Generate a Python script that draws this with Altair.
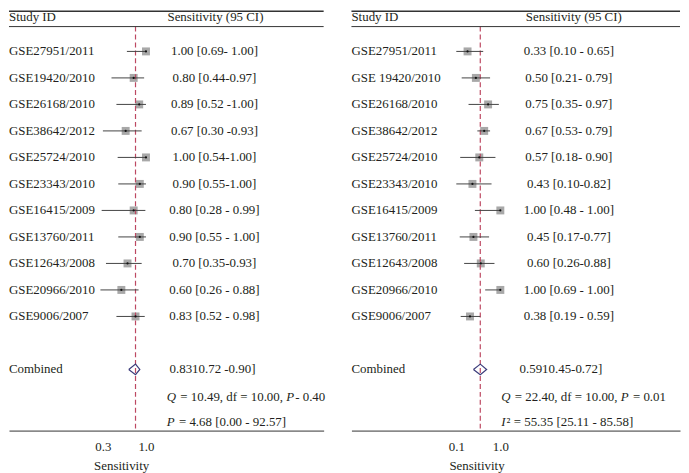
import altair as alt
import pandas as pd

# ---------------- data ----------------
studies_a = ["GSE27951/2011", "GSE19420/2010", "GSE26168/2010", "GSE38642/2012",
             "GSE25724/2010", "GSE23343/2010", "GSE16415/2009", "GSE13760/2011",
             "GSE12643/2008", "GSE20966/2010", "GSE9006/2007"]
est_a = [1.00, 0.80, 0.89, 0.67, 1.00, 0.90, 0.80, 0.90, 0.70, 0.60, 0.83]
lo_a = [0.69, 0.44, 0.52, 0.30, 0.54, 0.55, 0.28, 0.55, 0.35, 0.26, 0.52]
hi_a = [1.00, 0.97, 1.00, 0.93, 1.00, 1.00, 0.99, 1.00, 0.93, 0.88, 0.98]
labels_a = ["1.00 [0.69- 1.00]", "0.80 [0.44-0.97]", "0.89 [0.52 -1.00]", "0.67 [0.30 -0.93]",
            "1.00 [0.54-1.00]", "0.90 [0.55-1.00]", "0.80 [0.28 - 0.99]", "0.90 [0.55 - 1.00]",
            "0.70 [0.35-0.93]", "0.60 [0.26 - 0.88]", "0.83 [0.52 - 0.98]"]
combined_a = [0.83, 0.72, 0.90]
combined_label_a = "0.8310.72 -0.90]"
stats_a = [[("Q", True), (" = 10.49, df = 10.00, ", False), ("P", True), ("- 0.40", False)],
           [("P", True), (" = 4.68 [0.00 - 92.57]", False)]]
ticks_a = [0.3, 1.0]

studies_b = ["GSE27951/2011", "GSE 19420/2010", "GSE26168/2010", "GSE38642/2012",
             "GSE25724/2010", "GSE23343/2010", "GSE16415/2009", "GSE13760/2011",
             "GSE12643/2008", "GSE20966/2010", "GSE9006/2007"]
est_b = [0.33, 0.50, 0.75, 0.67, 0.57, 0.43, 1.00, 0.45, 0.60, 1.00, 0.38]
lo_b = [0.10, 0.21, 0.35, 0.53, 0.18, 0.10, 0.48, 0.17, 0.26, 0.69, 0.19]
hi_b = [0.65, 0.79, 0.97, 0.79, 0.90, 0.82, 1.00, 0.77, 0.88, 1.00, 0.59]
labels_b = ["0.33 [0.10 - 0.65]", "0.50 [0.21- 0.79]", "0.75 [0.35- 0.97]", "0.67 [0.53- 0.79]",
            "0.57 [0.18- 0.90]", "0.43 [0.10-0.82]", "1.00 [0.48 - 1.00]", "0.45 [0.17-0.77]",
            "0.60 [0.26-0.88]", "1.00 [0.69 - 1.00]", "0.38 [0.19 - 0.59]"]
combined_b = [0.59, 0.45, 0.72]
combined_label_b = "0.5910.45-0.72]"
stats_b = [[("Q", True), (" = 22.40, df = 10.00, ", False), ("P", True), (" = 0.01", False)],
           [("I", True), ("\u00b2 = 55.35 [25.11 - 85.58]", False)]]
ticks_b = [0.1, 1.0]

# ---------------- style ----------------
FONT = "Liberation Serif"
FS = 13
TXT = "#231f20"
H = 423
ROW0, ROWH = 41, 26.7
W_REG = {' ': 250, '=': 564, '.': 250, ',': 250, '-': 333, '[': 333, ']': 333,
         'd': 500, 'f': 333, 'P': 556, 'Q': 722, 'I': 333, '\u00b2': 300}
W_IT = {'Q': 722, 'P': 611, 'I': 333}


def seg_layout(parts, x0, y):
    out = []
    x = x0
    for txt, it in parts:
        table = W_IT if it else W_REG
        lead = len(txt) - len(txt.lstrip(' '))
        out.append(dict(t=txt.strip(' '), x=x + lead * 250 * FS / 1000, y=y, it=it))
        x += sum(table.get(c, 500) for c in txt) * FS / 1000 + (1.0 if it else 0)
    return out


def panel(studies, est, lo, hi, labels, comb, comb_label, stats, ticks,
          width, px1, slope, val_x, head_x, comb_x, stat_x, title_x):
    n = len(studies)
    df = pd.DataFrame({"study": studies, "est": est, "lo": lo, "hi": hi,
                       "lab": labels, "row": list(range(n))})
    crow = n + 1
    cdf = pd.DataFrame({"est": [comb[0]], "lo": [comb[1]], "hi": [comb[2]],
                        "row": [crow], "lab": [comb_label], "study": ["Combined"]})
    dia = pd.DataFrame({"est": [comb[1], comb[0], comb[2], comb[0], comb[1]],
                        "row": [crow, crow - 0.2, crow, crow + 0.2, crow],
                        "o": [0, 1, 2, 3, 4]})
    segs = seg_layout(stats[0], stat_x, 389) + seg_layout(stats[1], stat_x, 414)

    xdom = [1 - px1 / slope, 1 + (width - px1) / slope]
    ydom = [-ROW0 / ROWH, (H - ROW0) / ROWH]
    xs = alt.Scale(domain=xdom, nice=False, zero=False)
    ys = alt.Scale(domain=ydom, nice=False, zero=False, reverse=True)

    ax = alt.Axis(values=ticks, format=".1f", title="Sensitivity",
                  ticks=False, grid=False, domainColor="#333", domainWidth=1,
                  labelFont=FONT, labelFontSize=FS, labelColor=TXT,
                  labelPadding=10, titleFont=FONT, titleFontSize=FS,
                  titleFontWeight="normal", titleColor=TXT, titlePadding=6,
                  titleX=title_x, titleAlign="center")
    X = alt.X("est:Q", scale=xs, axis=ax)
    Y = alt.Y("row:Q", scale=ys, axis=None)

    base = alt.Chart(df)
    ci = base.mark_rule(color="#444", strokeWidth=1).encode(
        x=alt.X("lo:Q", scale=xs, axis=ax), x2="hi:Q", y=Y)
    sq = base.mark_square(size=64, color="#a8a8a8", opacity=1).encode(x=X, y=Y)
    dot = base.mark_circle(size=5, color="#111", opacity=1).encode(x=X, y=Y)
    names = base.mark_text(align="left", baseline="middle", font=FONT, fontSize=FS, color=TXT).encode(
        x=alt.value(0), y=Y, text="study:N")
    vals = base.mark_text(align="center", baseline="middle", font=FONT, fontSize=FS, color=TXT).encode(
        x=alt.value(val_x), y=Y, text="lab:N")

    cb = alt.Chart(cdf)
    dash = cb.mark_rule(color="#bd4862", strokeWidth=1.2, strokeDash=[5, 3]).encode(
        x=X, y=alt.value(16), y2=alt.value(H))
    cname = cb.mark_text(align="left", baseline="middle", font=FONT, fontSize=FS, color=TXT).encode(
        x=alt.value(0), y=Y, text="study:N")
    cval = cb.mark_text(align="center", baseline="middle", font=FONT, fontSize=FS, color=TXT).encode(
        x=alt.value(comb_x), y=Y, text="lab:N")
    diamond = alt.Chart(dia).mark_line(color="#3b3b7a", strokeWidth=1.2).encode(
        x=X, y=Y, order="o:Q")

    hdr = alt.Chart(pd.DataFrame({"h": ["Study ID"]}))
    texts = []
    for s in segs:
        kw = dict(align="left", baseline="middle", font=FONT, fontSize=FS, color=TXT)
        if s["it"]:
            kw["fontStyle"] = "italic"
        texts.append(hdr.mark_text(**kw).encode(
            x=alt.value(s["x"]), y=alt.value(s["y"]), text=alt.value(s["t"])))
    h1 = hdr.mark_text(align="left", baseline="middle", font=FONT, fontSize=FS, color=TXT).encode(
        x=alt.value(0), y=alt.value(6), text=alt.value("Study ID"))
    h2 = hdr.mark_text(align="center", baseline="middle", font=FONT, fontSize=FS, color=TXT).encode(
        x=alt.value(head_x), y=alt.value(6), text=alt.value("Sensitivity (95 CI)"))
    top = hdr.mark_rule(color="#333", strokeWidth=1.5).encode(
        x=alt.value(0), x2=alt.value(width), y=alt.value(0.5))
    hr = hdr.mark_rule(color="#333", strokeWidth=1).encode(
        x=alt.value(0), x2=alt.value(width), y=alt.value(16))

    return alt.layer(sq, dash, ci, dot, names, vals, diamond, cname, cval,
                     *texts, h1, h2, top, hr).properties(
        width=width, height=H, view=alt.ViewBackground(strokeWidth=0, stroke="transparent"))


left = panel(studies_a, est_a, lo_a, hi_a, labels_a, combined_a, combined_label_a, stats_a, ticks_a,
             width=317, px1=138, slope=62, val_x=207, head_x=208, comb_x=205, stat_x=159, title_x=113)
right = panel(studies_b, est_b, lo_b, hi_b, labels_b, combined_b, combined_label_b, stats_b, ticks_b,
              width=331, px1=150, slope=49.3, val_x=219, head_x=224, comb_x=211, stat_x=151, title_x=126)

chart = alt.hconcat(left, right, spacing=25).resolve_scale(x="independent", y="independent").properties(
    padding={"left": 0, "top": 0, "right": 0, "bottom": 0}
).configure_view(strokeWidth=0, stroke="transparent").configure(background="white")

chart.save("out.html", embed_options={"renderer": "svg", "actions": False})
